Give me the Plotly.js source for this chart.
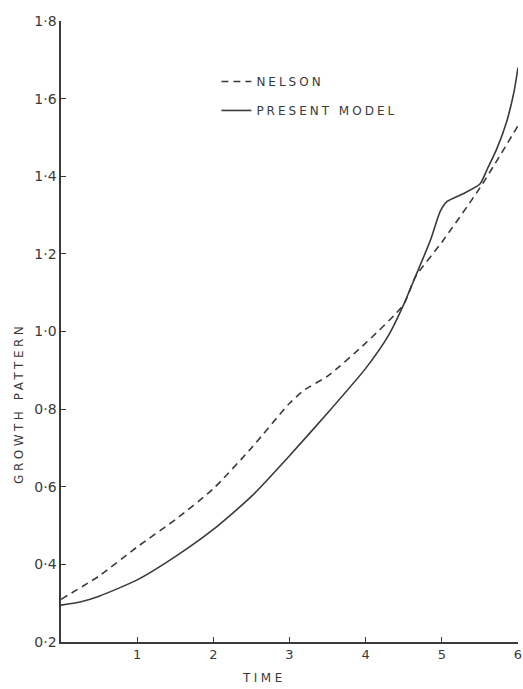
<!DOCTYPE html>
<html>
<head>
<meta charset="utf-8">
<script src="https://cdn.plot.ly/plotly-3.0.1.min.js"></script>
<style>
html,body{margin:0;padding:0;background:#fff;}
#chart{width:523px;height:689px;}
#chart .legendtext{letter-spacing:3px;}
#chart .annotation-text{letter-spacing:3.5px;}
</style>
</head>
<body>
<div id="chart"></div>
<script>
// Present model (solid)
const presentTime = [0, 0.25, 0.5, 1, 1.5, 2, 2.5, 3, 3.5, 4, 4.3, 4.5, 4.65, 4.85, 4.98, 5.07, 5.3, 5.5, 5.6, 5.72, 5.85, 5.95, 6.0];
const presentGrowth = [0.295, 0.303, 0.318, 0.36, 0.42, 0.49, 0.575, 0.68, 0.79, 0.905, 0.99, 1.07, 1.14, 1.235, 1.31, 1.335, 1.357, 1.38, 1.42, 1.47, 1.54, 1.62, 1.68];
// Nelson (dashed)
const nelsonTime = [0, 0.5, 1, 1.5, 2, 2.5, 3, 3.2, 3.5, 4, 4.5, 4.65, 5, 5.5, 6];
const nelsonGrowth = [0.31, 0.37, 0.445, 0.515, 0.595, 0.70, 0.815, 0.85, 0.885, 0.97, 1.07, 1.14, 1.23, 1.37, 1.53];
// Tick labels
const xTickVals = [1, 2, 3, 4, 5, 6];
const xTickText = ['1', '2', '3', '4', '5', '6'];
const yTickVals = [0.2, 0.4, 0.6, 0.8, 1.0, 1.2, 1.4, 1.6, 1.8];
const yTickText = ['0·2', '0·4', '0·6', '0·8', '1·0', '1·2', '1·4', '1·6', '1·8'];

const ink = '#3a3a3a';
const fontFam = 'DejaVu Sans, sans-serif';

const traces = [
  {x: nelsonTime, y: nelsonGrowth, mode: 'lines', name: 'NELSON', legendgroup: 'a',
   line: {color: ink, width: 1.6, dash: '7px,5px', shape: 'spline', smoothing: 0.6}},
  {x: presentTime, y: presentGrowth, mode: 'lines', name: 'PRESENT MODEL', legendgroup: 'b',
   line: {color: ink, width: 1.6, shape: 'spline', smoothing: 0.6}}
];

const layout = {
  width: 523, height: 689,
  margin: {l: 61, r: 5, t: 21, b: 47},
  paper_bgcolor: '#fff', plot_bgcolor: '#fff',
  font: {family: fontFam, color: ink, size: 13},
  showlegend: true,
  legend: {x: 0.34, y: 0.926, xanchor: 'left', yanchor: 'top', bgcolor: 'rgba(0,0,0,0)',
           tracegroupgap: 10, font: {size: 12, family: fontFam, color: ink}},
  xaxis: {range: [0, 6], showgrid: false, zeroline: false, showline: true, linecolor: ink, linewidth: 1.6,
          tickmode: 'array', tickvals: xTickVals, ticktext: xTickText, ticks: 'inside', ticklen: 5,
          tickcolor: ink, tickfont: {size: 13}, fixedrange: true},
  yaxis: {range: [0.2, 1.8], showgrid: false, zeroline: false, showline: true, linecolor: ink, linewidth: 1.6,
          tickmode: 'array', tickvals: yTickVals, ticktext: yTickText, ticks: 'inside', ticklen: 5,
          tickcolor: ink, tickfont: {size: 14}, fixedrange: true},
  annotations: [
    {text: 'TIME', xref: 'paper', yref: 'paper', x: 0.445, y: -0.058, showarrow: false,
     font: {size: 12, family: fontFam, color: ink}, xanchor: 'center', yanchor: 'middle'},
    {text: 'GROWTH PATTERN', xref: 'paper', yref: 'paper', x: -0.093, y: 0.385, textangle: -90, showarrow: false,
     font: {size: 12, family: fontFam, color: ink}, xanchor: 'center', yanchor: 'middle'}
  ]
};

Plotly.newPlot('chart', traces, layout, {displayModeBar: false, staticPlot: true}).then(function (gd) {
  // letter-spaced legend text is wider than Plotly measured; let it show in full
  gd.querySelectorAll('.legend [clip-path]').forEach(function (el) { el.removeAttribute('clip-path'); });
});
</script>
</body>
</html>
